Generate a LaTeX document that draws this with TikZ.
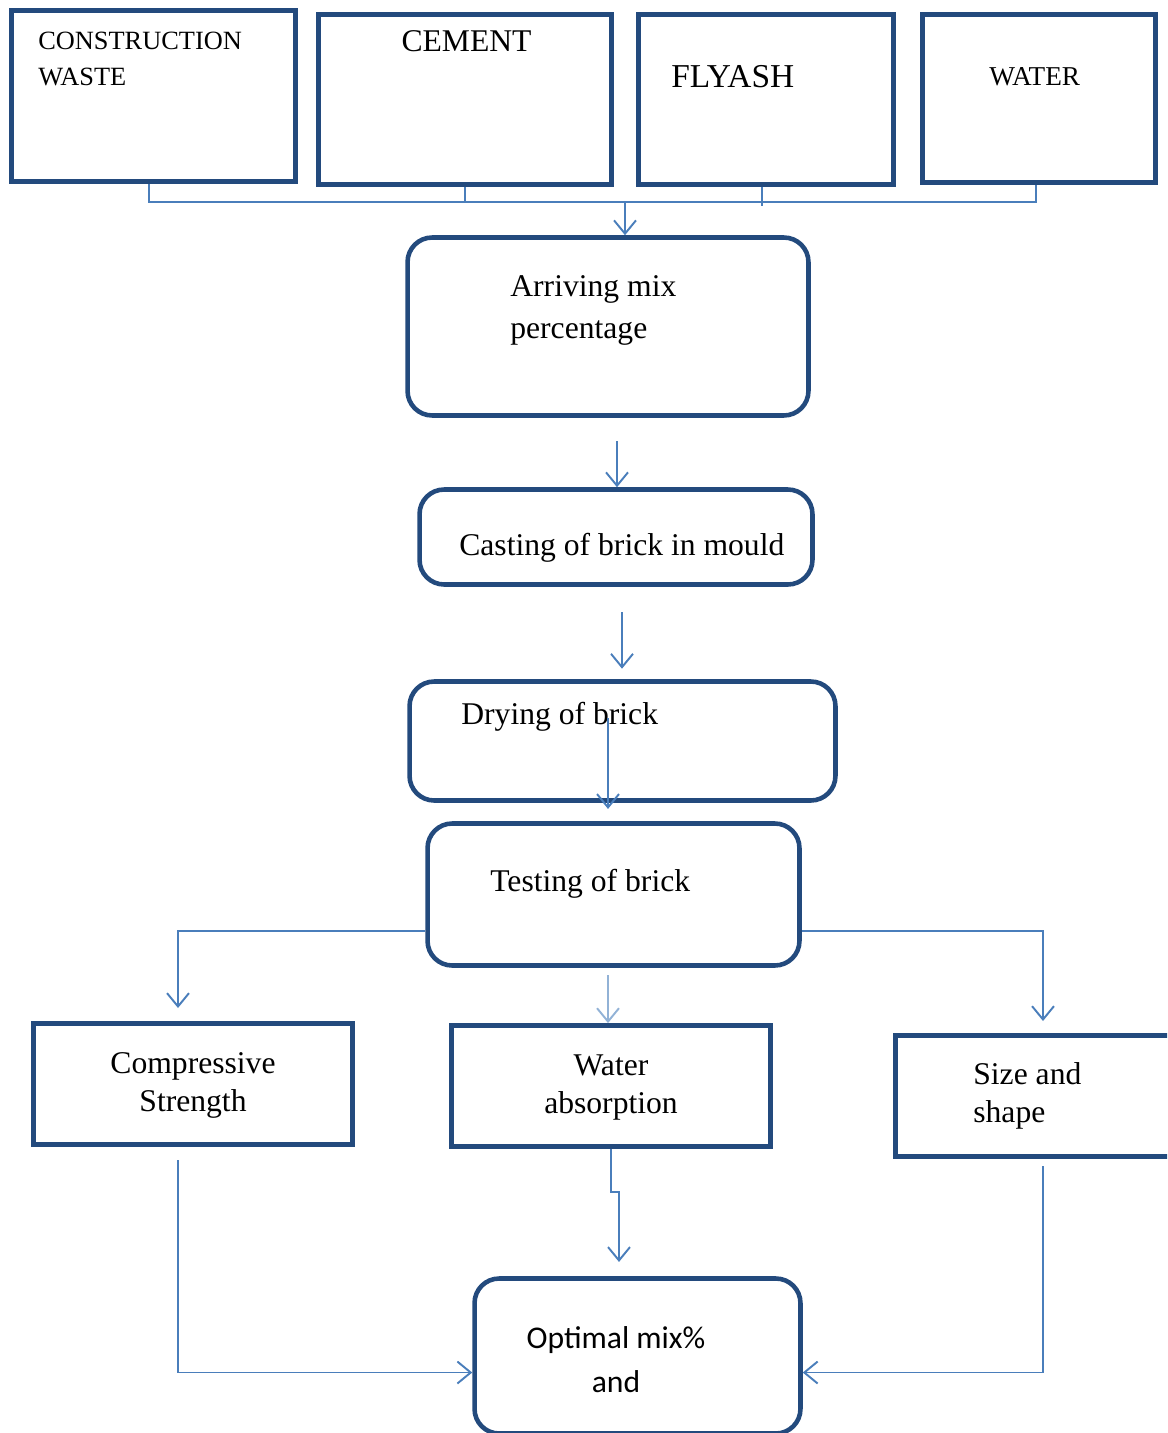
\documentclass[tikz,border=0pt]{standalone}
\usepackage{fontspec}
\setmainfont{Liberation Serif}
\newfontfamily\calibrifont{Carlito}
\usetikzlibrary{arrows.meta}
\definecolor{boxblue}{RGB}{35,74,125}
\definecolor{linkblue}{RGB}{74,126,187}

\begin{document}
\begin{tikzpicture}
        [
        x = 0.02cm, y = -0.02cm,
        inbox/.style = {draw = boxblue, line width = 2.8pt, inner sep = 0},
        roundbox/.style = {inbox, line width = 2.6pt, rounded corners = 14pt},
        txt/.style = {inner sep = 0, font = {\fontsize{18}{21.5}\selectfont}},
        smalltxt/.style = {inner sep = 0, font = {\fontsize{15}{21}\selectfont}},
        link/.style = {draw = linkblue, line width = 1.1pt},
        flow/.style = {link, -{Straight Barb[length = 7.6pt, width = 12.5pt]}}]
        \useasboundingbox (0, 0) rectangle (1167, 1433);
        \clip (0, 0) rectangle (1167, 1433);
        % raw materials
        \node (waste) [inbox, minimum width = 5.68cm, minimum height = 3.42cm] at (153.5, 96) {};
        \node (cement) [inbox, minimum width = 5.86cm, minimum height = 3.40cm] at (465, 99.5) {};
        \node (flyash) [inbox, minimum width = 5.10cm, minimum height = 3.40cm] at (766, 99.5) {};
        \node (water) [inbox, minimum width = 4.66cm, minimum height = 3.36cm] at (1039, 98.5) {};
        \node (wastetxt) [smalltxt, anchor = base west, align = left] at (38, 86) {CONSTRUCTION\\WASTE};
        \node (cementtxt) [txt, anchor = base] at (466.5, 52) {CEMENT};
        \node (flyashtxt) [txt, anchor = base west, font = {\fontsize{19}{22}\selectfont}] at (671, 88) {FLYASH};
        \node (watertxt) [smalltxt, anchor = base west, font = {\fontsize{15.5}{21}\selectfont}] at (989, 86) {WATER};
        % process steps
        \node (arriving) [roundbox, minimum width = 8.02cm, minimum height = 3.56cm] at (608, 326.5) {};
        \node (casting) [roundbox, minimum width = 7.86cm, minimum height = 1.90cm] at (616, 537) {};
        \node (drying) [roundbox, minimum width = 8.52cm, minimum height = 2.38cm] at (622.5, 741) {};
        \node (testing) [roundbox, minimum width = 7.44cm, minimum height = 2.84cm] at (613.5, 894.5) {};
        \node (arrivingtxt) [txt, anchor = base west, align = left, font = {\fontsize{18}{23.8}\selectfont}] at (510, 338) {Arriving mix\\percentage};
        \node (castingtxt) [txt, anchor = base west] at (459, 555) {Casting of brick in mould};
        \node (dryingtxt) [txt, anchor = base west] at (461, 724) {Drying of brick};
        \node (testingtxt) [txt, anchor = base west] at (490, 891) {Testing of brick};
        % tests
        \node (comp) [inbox, minimum width = 6.38cm, minimum height = 2.42cm] at (193, 1084) {};
        \node (absorb) [inbox, minimum width = 6.38cm, minimum height = 2.42cm] at (611, 1086) {};
        \node (size) [inbox, minimum width = 5.80cm, minimum height = 2.42cm] at (1040.5, 1096) {};
        \node (comptxt) [txt, anchor = base, align = center] at (193, 1111) {Compressive\\Strength};
        \node (absorbtxt) [txt, anchor = base, align = center] at (611, 1113) {Water\\absorption};
        \node (sizetxt) [txt, anchor = base west, align = left] at (973, 1122) {Size and\\shape};
        % result
        \node (optimal) [roundbox, minimum width = 6.52cm, minimum height = 3.10cm] at (637.5, 1356) {};
        \node (optimaltxt) [txt, anchor = base, align = center, font = {\calibrifont\fontsize{18}{25}\selectfont}] at (616, 1392) {Optimal mix\%\\and};
        % connectors
        \coordinate (bus) at (625, 202);
        \draw[link] ([xshift = -2.5pt]waste.south) |- (bus);
        \draw[link] ([xshift = -1.7pt]water.south) |- (bus);
        \draw[link] (cement.south) -- (cement.south |- bus);
        \draw[link] ([xshift = -2.3pt]flyash.south) -- ++(0, 19);
        \draw[flow] (bus) -- (bus |- arriving.north);
        \coordinate (arrout) at (617, 441);
        \draw[flow] (arrout) -- (arrout |- casting.north);
        \coordinate (castout) at (622, 612);
        \draw[flow, shorten >= 6pt] (castout) -- (castout |- drying.north);
        \coordinate (dryout) at (608, 718);
        \draw[flow, shorten >= 7pt] (dryout) -- (dryout |- testing.north);
        \coordinate (compin) at (178, 1008);
        \coordinate (sizein) at (1043, 1021);
        \draw[flow] ([yshift = -20.7pt]testing.west) -| (compin);
        \draw[flow] ([yshift = -20.7pt]testing.east) -| (sizein);
        \coordinate (testout) at (608, 975);
        \draw[flow, draw = linkblue!60] (testout) -- (testout |- absorb.north);
        \draw[flow] (absorb.south) -- ++(0, 43) -- ++(8, 0) -- ++(0, 70);
        \coordinate (compout) at (178, 1160);
        \coordinate (sizeout) at (1043, 1166);
        \draw[flow] (compout) |- ([yshift = -9.4pt]optimal.west);
        \draw[flow] (sizeout) |- ([yshift = -9.4pt]optimal.east);
    \end{tikzpicture}
\end{document}
